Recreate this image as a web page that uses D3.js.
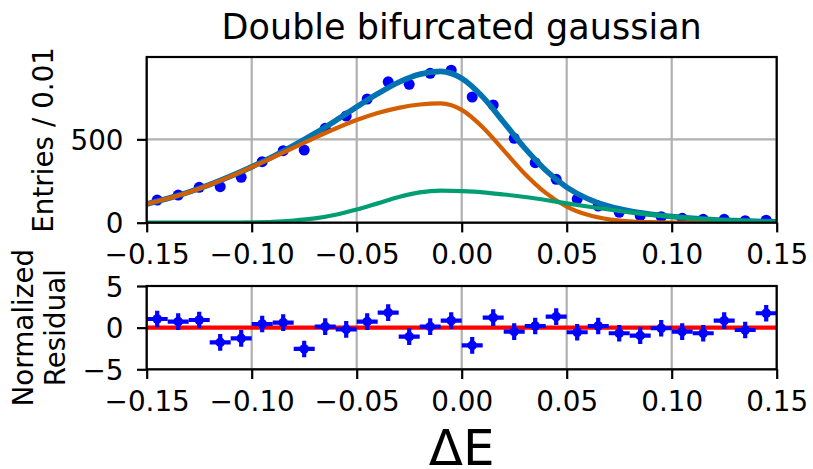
<!DOCTYPE html>
<html>
<head>
<meta charset="utf-8">
<script src="https://cdn.jsdelivr.net/npm/d3@7"></script>
<style>
  html, body { margin: 0; padding: 0; background: #fff; }
  svg { display: block; font-family: "DejaVu Sans", sans-serif; }
</style>
</head>
<body>
<div id="viz"></div>
<script>
// Bin centers of the histogram (width 0.01)
const binCenters = [-0.145, -0.135, -0.125, -0.115, -0.105, -0.095, -0.085, -0.075, -0.065, -0.055,
  -0.045, -0.035, -0.025, -0.015, -0.005, 0.005, 0.015, 0.025, 0.035, 0.045,
  0.055, 0.065, 0.075, 0.085, 0.095, 0.105, 0.115, 0.125, 0.135, 0.145];
const entries = [136, 166, 212, 216, 272, 366, 432, 436, 566, 640,
  742, 845, 830, 896, 915, 754, 706, 506, 360, 260,
  142, 100, 62, 42, 36, 26, 20, 20, 12, 15];
const residuals = [1.04, 0.72, 0.92, -1.76, -1.28, 0.44, 0.6, -2.56, 0.12, -0.2,
  0.72, 1.8, -1.08, 0.12, 0.84, -2.12, 1.2, -0.48, 0.2, 1.32,
  -0.55, 0.2, -0.67, -0.96, -0.07, -0.48, -0.67, 0.84, -0.28, 1.73];

// Fit curves
const curveX = [-0.15, -0.14, -0.13, -0.12, -0.11, -0.10, -0.09, -0.08, -0.07, -0.06,
  -0.05, -0.04, -0.03, -0.02, -0.01, 0.00, 0.01, 0.02, 0.03, 0.04,
  0.05, 0.06, 0.07, 0.08, 0.09, 0.10, 0.11, 0.12, 0.13, 0.14, 0.15];
const totalFit = [112, 145, 183, 228, 279, 335, 396, 463, 535, 613,
  695, 774, 843, 891, 908, 866, 755, 603, 448, 315,
  213, 144, 99, 70, 51, 37, 26, 18, 13, 8, 5];
const peak1Fit = [112, 145, 183, 228, 278, 333, 391, 450, 509, 565,
  616, 658, 689, 709, 716, 677, 573, 434, 294, 179,
  97, 47, 20, 8, 3, 1, 0, 0, 0, 0, 0];
const peak2Fit = [0, 0, 0, 0, 1, 2, 5, 13, 26, 48,
  79, 116, 154, 182, 192, 189, 182, 169, 154, 136,
  116, 97, 79, 62, 48, 36, 26, 18, 13, 8, 5];

// Ticks
const xTicks = [-0.15, -0.10, -0.05, 0.00, 0.05, 0.10, 0.15];
const yTicksTop = [0, 500];
const yTicksRes = [-5, 0, 5];

const W = 813, H = 469;
const left = 146.7, right = 776.7;
const top1 = 57, bottom1 = 222.7;
const top2 = 286, bottom2 = 369.3;
const tickFont = 27.8;
const lw = 2.2;

const svg = d3.select('#viz').append('svg')
  .attr('width', W)
  .attr('height', H);

const x = d3.scaleLinear().domain([-0.15, 0.15]).range([left, right]);
const yTop = d3.scaleLinear().domain([0, 994]).range([bottom1, top1]);
const yRes = d3.scaleLinear().domain([-5, 5]).range([bottom2, top2]);

const fmtX = d => d3.format('.2f')(d).replace('-', '\u2212');
const fmtY = d => String(d).replace('-', '\u2212');

function drawFrame(y, yTicks, yTop0, yBot0, clipId) {
  svg.append('clipPath').attr('id', clipId)
    .append('rect')
    .attr('x', left).attr('y', yTop0)
    .attr('width', right - left).attr('height', yBot0 - yTop0);

  // grid
  const grid = svg.append('g');
  grid.selectAll('.gx').data(xTicks).enter().append('line')
    .attr('x1', d => x(d)).attr('x2', d => x(d))
    .attr('y1', yTop0).attr('y2', yBot0)
    .attr('stroke', '#b0b0b0').attr('stroke-width', lw);
  grid.selectAll('.gy').data(yTicks).enter().append('line')
    .attr('x1', left).attr('x2', right)
    .attr('y1', d => y(d)).attr('y2', d => y(d))
    .attr('stroke', '#b0b0b0').attr('stroke-width', lw);
}

function drawAxes(y, yTicks, yTop0, yBot0) {
  const gx = svg.append('g')
    .attr('transform', `translate(0,${yBot0})`)
    .call(d3.axisBottom(x).tickValues(xTicks).tickFormat(fmtX)
      .tickSize(9.7).tickSizeOuter(0).tickPadding(9.7));
  gx.select('.domain').remove();
  gx.selectAll('line').attr('stroke', '#000').attr('stroke-width', lw);
  gx.selectAll('text').attr('font-size', tickFont).attr('dy', '0.8em')
    .attr('fill', '#000').attr('font-family', 'DejaVu Sans');

  const gy = svg.append('g')
    .attr('transform', `translate(${left},0)`)
    .call(d3.axisLeft(y).tickValues(yTicks).tickFormat(fmtY)
      .tickSize(9.7).tickSizeOuter(0).tickPadding(13.5));
  gy.select('.domain').remove();
  gy.selectAll('line').attr('stroke', '#000').attr('stroke-width', lw);
  gy.selectAll('text').attr('font-size', tickFont).attr('dy', '0.36em')
    .attr('fill', '#000').attr('font-family', 'DejaVu Sans');

  svg.append('rect')
    .attr('x', left).attr('y', yTop0)
    .attr('width', right - left).attr('height', yBot0 - yTop0)
    .attr('fill', 'none').attr('stroke', '#000').attr('stroke-width', lw);
}

// Top panel
drawFrame(yTop, yTicksTop, top1, bottom1, 'clipTop');
const gTop = svg.append('g').attr('clip-path', 'url(#clipTop)');

gTop.selectAll('circle').data(binCenters).enter().append('circle')
  .attr('cx', d => x(d))
  .attr('cy', (d, i) => yTop(entries[i]))
  .attr('r', 5.5)
  .attr('fill', '#0000ff');

const line = d3.line()
  .x((d, i) => x(curveX[i]))
  .y(d => yTop(d))
  .curve(d3.curveMonotoneX);

gTop.append('path').datum(totalFit).attr('d', line)
  .attr('fill', 'none').attr('stroke', '#0173b2').attr('stroke-width', 5.6)
  .attr('stroke-linejoin', 'round');
gTop.append('path').datum(peak1Fit).attr('d', line)
  .attr('fill', 'none').attr('stroke', '#d55e00').attr('stroke-width', 4.2)
  .attr('stroke-linejoin', 'round');
gTop.append('path').datum(peak2Fit).attr('d', line)
  .attr('fill', 'none').attr('stroke', '#029e73').attr('stroke-width', 4.2)
  .attr('stroke-linejoin', 'round');

drawAxes(yTop, yTicksTop, top1, bottom1);

// Residual panel
drawFrame(yRes, yTicksRes, top2, bottom2, 'clipRes');
const gRes = svg.append('g').attr('clip-path', 'url(#clipRes)');

gRes.append('line')
  .attr('x1', left).attr('x2', right)
  .attr('y1', yRes(0)).attr('y2', yRes(0))
  .attr('stroke', '#ff0000').attr('stroke-width', 4.2);

const pts = gRes.selectAll('.pt').data(binCenters).enter().append('g');
pts.append('line')
  .attr('x1', d => x(d - 0.005)).attr('x2', d => x(d + 0.005))
  .attr('y1', (d, i) => yRes(residuals[i])).attr('y2', (d, i) => yRes(residuals[i]))
  .attr('stroke', '#0000ff').attr('stroke-width', 4.2);
pts.append('line')
  .attr('x1', d => x(d)).attr('x2', d => x(d))
  .attr('y1', (d, i) => yRes(residuals[i] - 1)).attr('y2', (d, i) => yRes(residuals[i] + 1))
  .attr('stroke', '#0000ff').attr('stroke-width', 4.2);
pts.append('circle')
  .attr('cx', d => x(d))
  .attr('cy', (d, i) => yRes(residuals[i]))
  .attr('r', 4.8)
  .attr('fill', '#0000ff');

drawAxes(yRes, yTicksRes, top2, bottom2);

// Titles and labels
svg.append('text')
  .attr('x', (left + right) / 2).attr('y', 39.3)
  .attr('text-anchor', 'middle')
  .attr('font-size', 35)
  .text('Double bifurcated gaussian');

svg.append('text')
  .attr('transform', `translate(53,${(top1 + bottom1) / 2}) rotate(-90)`)
  .attr('text-anchor', 'middle')
  .attr('font-size', tickFont)
  .text('Entries / 0.01');

const resLabel = svg.append('text')
  .attr('transform', `translate(0,${(top2 + bottom2) / 2}) rotate(-90)`)
  .attr('text-anchor', 'middle')
  .attr('font-size', tickFont);
resLabel.append('tspan').attr('x', 0).attr('y', 33.3).text('Normalized');
resLabel.append('tspan').attr('x', 0).attr('y', 65).text('Residual');

svg.append('text')
  .attr('x', (left + right) / 2).attr('y', 465)
  .attr('text-anchor', 'middle')
  .attr('font-size', 50)
  .text('\u0394E');
</script>
</body>
</html>
